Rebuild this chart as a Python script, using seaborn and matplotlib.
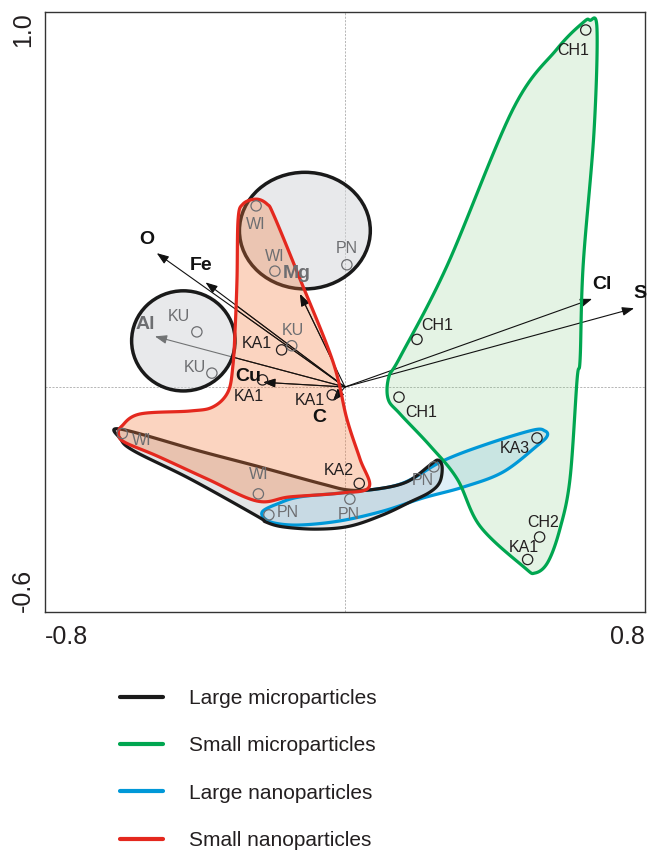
import numpy as np
import pandas as pd
import matplotlib
matplotlib.use("Agg")
import matplotlib.pyplot as plt
from matplotlib.patches import Polygon, Ellipse
from matplotlib.lines import Line2D
import seaborn as sns

sns.set_theme(style="white")
plt.rcParams["font.family"] = ["Liberation Sans", "DejaVu Sans"]

# ---- sample scores (first two axes) ----
sample_names = ["CH1", "CH1", "CH1", "KA3", "PN", "CH2", "KA1", "KA2", "PN", "PN",
                "WI", "WI", "KA1", "KA1", "KA1", "KU", "KU", "KU", "WI", "WI", "PN"]
sample_x = [0.642, 0.192, 0.144, 0.512, 0.237, 0.519, 0.487, 0.038, 0.013, -0.203,
            -0.231, -0.594, -0.034, -0.220, -0.169, -0.142, -0.395, -0.355, -0.237, -0.187, 0.005]
sample_y = [0.952, 0.127, -0.027, -0.136, -0.213, -0.400, -0.460, -0.257, -0.299, -0.341,
            -0.285, -0.124, -0.021, 0.019, 0.099, 0.110, 0.147, 0.037, 0.483, 0.309, 0.326]

# ---- element loadings ----
element_names = ["O", "Fe", "Mg", "Al", "Cu", "C", "Cl", "S"]
element_x = [-0.502, -0.372, -0.120, -0.507, -0.218, -0.032, 0.659, 0.771]
element_y = [0.357, 0.279, 0.248, 0.135, 0.0125, -0.037, 0.235, 0.210]

# ---- group envelopes (outline vertices in score units) ----
large_micro_x = [-0.600, -0.387, -0.235, -0.059, 0.013, 0.085, 0.165, 0.227, 0.248, 0.259, 0.253,
                 0.227, 0.173, 0.101, 0.013, -0.075, -0.165, -0.211, -0.235, -0.413, -0.562, -0.598]
large_micro_y = [-0.112, -0.171, -0.211, -0.259, -0.275, -0.272, -0.253, -0.208, -0.195, -0.213, -0.253,
                 -0.280, -0.307, -0.341, -0.371, -0.379, -0.373, -0.360, -0.344, -0.245, -0.171, -0.139]

small_micro_x = [0.653, 0.672, 0.664, 0.635, 0.627, 0.619, 0.600, 0.573, 0.541, 0.507, 0.477,
                 0.360, 0.299, 0.227, 0.147, 0.115, 0.117, 0.147, 0.272, 0.448, 0.565, 0.635]
small_micro_y = [0.978, 0.955, 0.680, 0.323, 0.075, 0.021, -0.245, -0.379, -0.467, -0.496, -0.480,
                 -0.371, -0.245, -0.157, -0.072, -0.032, 0.027, 0.080, 0.323, 0.741, 0.901, 0.972]

large_nano_x = [-0.219, -0.181, -0.120, 0.013, 0.147, 0.261, 0.379, 0.501, 0.533, 0.539, 0.512,
                0.421, 0.315, 0.208, 0.101, -0.013, -0.120, -0.187, -0.216]
large_nano_y = [-0.331, -0.312, -0.293, -0.280, -0.259, -0.197, -0.152, -0.115, -0.117, -0.131, -0.157,
                -0.227, -0.267, -0.296, -0.331, -0.357, -0.368, -0.363, -0.349]

small_nano_x = [-0.237, -0.208, -0.189, -0.120, -0.032, 0.005, 0.040, 0.064, -0.013, -0.147, -0.235,
                -0.368, -0.501, -0.588, -0.604, -0.595, -0.547, -0.413, -0.352, -0.312, -0.299,
                -0.293, -0.288, -0.285, -0.272]
small_nano_y = [0.501, 0.488, 0.456, 0.288, 0.067, -0.085, -0.192, -0.267, -0.283, -0.293, -0.304,
                -0.245, -0.184, -0.147, -0.125, -0.104, -0.072, -0.064, -0.053, -0.013, 0.056,
                0.155, 0.288, 0.448, 0.488]

# site clusters drawn as ellipses: centre x, centre y, width, height
site_cx = [-0.107, -0.431]
site_cy = [0.417, 0.123]
site_w = [0.349, 0.276]
site_h = [0.311, 0.267]

legend_labels = ["Large microparticles", "Small microparticles",
                 "Large nanoparticles", "Small nanoparticles"]
legend_colors = ["#1a1a1a", "#00a650", "#0098d8", "#e4281e"]


def smooth_closed(xs, ys, n=16):
    """Closed Catmull-Rom curve through outline vertices."""
    P = np.column_stack([xs, ys])
    m = len(P)
    t = np.linspace(0, 1, n, endpoint=False)[:, None]
    segs = []
    for i in range(m):
        p0, p1, p2, p3 = P[i - 1], P[i], P[(i + 1) % m], P[(i + 2) % m]
        segs.append(0.5 * (2 * p1 + (-p0 + p2) * t
                           + (2 * p0 - 5 * p1 + 4 * p2 - p3) * t ** 2
                           + (-p0 + 3 * p1 - 3 * p2 + p3) * t ** 3))
    return np.vstack(segs)


def draw_vectors(ax, zorder, clip=None):
    for ex, ey in zip(element_x, element_y):
        ann = ax.annotate("", xy=(ex, ey), xytext=(0, 0),
                          arrowprops=dict(arrowstyle="-|>,head_length=0.6,head_width=0.22",
                                          color="#111111", lw=0.8, mutation_scale=12,
                                          shrinkA=0, shrinkB=0),
                          zorder=zorder)
        if clip is not None:
            ann.arrow_patch.set_clip_path(clip)


fig = plt.figure(figsize=(6.48, 8.52), dpi=100)
ax = fig.add_axes([45 / 648, 1 - 612 / 852, 600 / 648, 600 / 852])
ax.set_xlim(-0.8, 0.8)
ax.set_ylim(-0.6, 1.0)

# origin cross-hairs
ax.axvline(0, color="#9a9a9a", lw=0.5, ls=(0, (3, 2)), zorder=0.8)
ax.axhline(0, color="#9a9a9a", lw=0.5, ls=(0, (3, 2)), zorder=0.8)

edge_lw = 2.3
env_large_micro = smooth_closed(large_micro_x, large_micro_y)
env_small_micro = smooth_closed(small_micro_x, small_micro_y)
env_large_nano = smooth_closed(large_nano_x, large_nano_y)
env_small_nano = smooth_closed(small_nano_x, small_nano_y)

# fills
ax.add_patch(Polygon(env_large_micro, closed=True, fc="#e3e5e6", ec="none", zorder=1.0))
ax.add_patch(Polygon(env_small_micro, closed=True, fc="#84cc84", alpha=0.22, ec="none", zorder=1.1))
ax.add_patch(Polygon(env_large_nano, closed=True, fc="#4fa8dc", alpha=0.18, ec="none", zorder=1.2))

# element vectors (beneath the site clusters)
draw_vectors(ax, zorder=2)

# site clusters
for cx, cy, w, h in zip(site_cx, site_cy, site_w, site_h):
    ax.add_patch(Ellipse((cx, cy), w, h, fc=(0.824, 0.835, 0.847, 0.5),
                         ec="#1a1a1a", lw=2.5, zorder=3))

# outlines
ax.add_patch(Polygon(env_large_nano, closed=True, fc="none", ec=legend_colors[2], lw=edge_lw, zorder=3.1))
ax.add_patch(Polygon(env_small_micro, closed=True, fc="none", ec=legend_colors[1], lw=edge_lw, zorder=3.15))
ax.add_patch(Polygon(env_large_micro, closed=True, fc="none", ec=legend_colors[0], lw=edge_lw, zorder=3.2))
red_fill = Polygon(env_small_nano, closed=True, fc="#f47a3c", alpha=0.32, ec="none", zorder=3.5)
ax.add_patch(red_fill)
# vectors stay crisp where they cross the small-nanoparticle envelope
draw_vectors(ax, zorder=3.6, clip=red_fill)
ax.add_patch(Polygon(env_small_nano, closed=True, fc="none", ec=legend_colors[3], lw=edge_lw, zorder=4))

# sample points
df = pd.DataFrame({"x": sample_x, "y": sample_y, "name": sample_names})
df["tone"] = np.where(df["name"].isin(["WI", "PN", "KU"]), "#6d6e71", "#231f20")
for tone, sub in df.groupby("tone"):
    sns.scatterplot(data=sub, x="x", y="y", ax=ax, color=tone, facecolor="none",
                    edgecolor=tone, linewidth=0.9, s=55, zorder=5, legend=False)

# sample label offsets (points)
label_dx = [-9.4, 14.4, 15.8, -15.8, -7.9, 2.2, -2.9, -15.1, -0.7, 13.7,
            0.0, 13.7, -15.8, -10.0, -18.0, 0.7, -13.0, -12.2, 0.0, 0.0, 0.0]
label_dy = [-15.1, 10.1, -10.8, -7.9, -10.1, 10.8, 8.6, 9.4, -10.8, 1.4,
            13.7, -5.0, -4.3, -12.2, 4.3, 10.8, 10.8, 4.3, -13.7, 10.8, 11.5]
for (x, y, name, tone), dx, dy in zip(df[["x", "y", "name", "tone"]].itertuples(index=False),
                                       label_dx, label_dy):
    ax.annotate(name, (x, y), xytext=(dx, dy), textcoords="offset points",
                ha="center", va="center", fontsize=11.5, color=tone, zorder=6)

# element labels
el_dx = [-7.2, -3.0, -2.4, -7.2, -10.6, -9.8, 7.4, 4.3]
el_dy = [10.1, 12.2, 15.0, 8.6, 4.1, -11.8, 10.1, 10.3]
el_color = ["#111111", "#111111", "#6d6e71", "#6d6e71", "#111111", "#111111", "#111111", "#111111"]
for name, ex, ey, dx, dy, c in zip(element_names, element_x, element_y, el_dx, el_dy, el_color):
    ax.annotate(name, (ex, ey), xytext=(dx, dy), textcoords="offset points",
                ha="center", va="center", fontsize=14, fontweight="bold", color=c, zorder=6)

# axes frame and ticks
xt = np.round(np.arange(-0.8, 0.81, 0.2), 1)
yt = np.round(np.arange(-0.6, 1.01, 0.2), 1)
ax.set_xticks(xt)
ax.set_xticklabels(["-0.8"] + [""] * (len(xt) - 2) + ["0.8"])
ax.set_yticks(yt)
ax.set_yticklabels(["-0.6"] + [""] * (len(yt) - 2) + ["1.0"], rotation=90)
ax.tick_params(axis="both", direction="inout", length=6, width=1, color="#333333",
               labelsize=18, labelcolor="#231f20")
ax.tick_params(axis="x", pad=6)
ax.tick_params(axis="y", pad=4)
xl = ax.get_xticklabels()
xl[0].set_ha("left")
xl[-1].set_ha("right")
yl = ax.get_yticklabels()
yl[0].set_va("bottom")
yl[-1].set_va("top")
for sp in ax.spines.values():
    sp.set_color("#333333")
    sp.set_linewidth(1.0)
ax.set_xlabel("")
ax.set_ylabel("")
ax.grid(False)

# legend
handles = [Line2D([], [], color=c, lw=3) for c in legend_colors]
fig.legend(handles, legend_labels, loc="upper left", bbox_to_anchor=(120 / 648, 1 - 689 / 852),
           frameon=False, fontsize=15, handlelength=2.06, handletextpad=1.25,
           labelspacing=1.36, borderpad=0, borderaxespad=0, labelcolor="#231f20")

fig.savefig("out.png", dpi=100)
